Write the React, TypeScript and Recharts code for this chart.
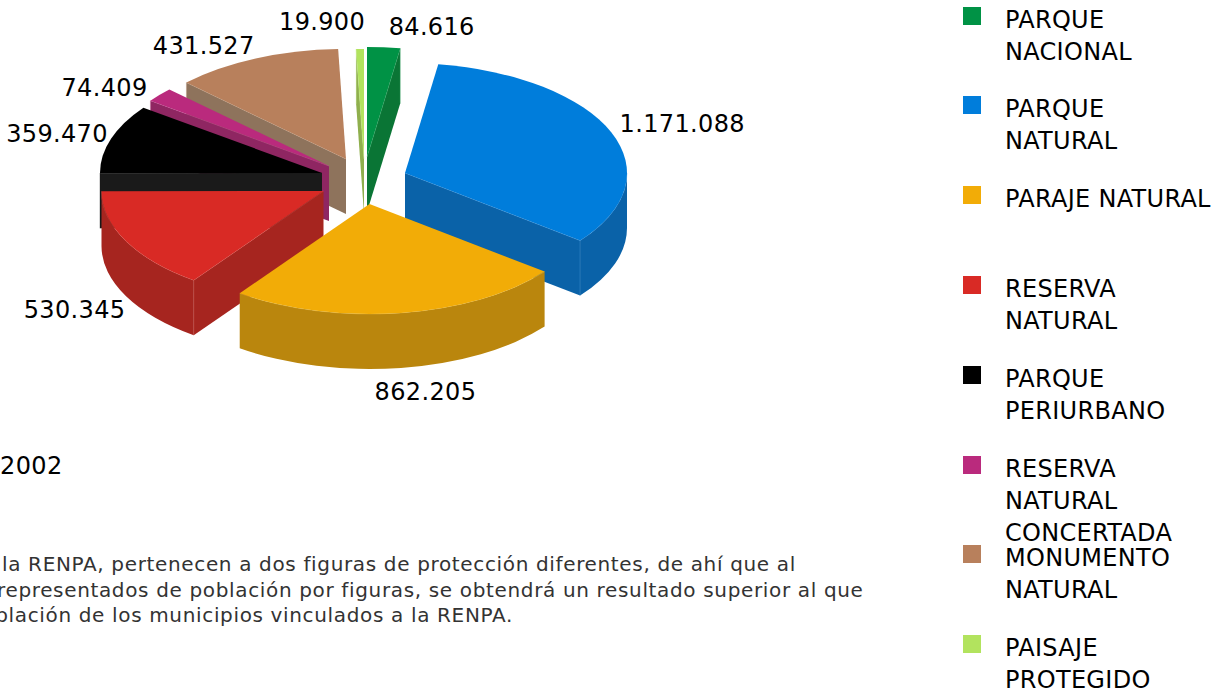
import React from 'react';
import { PieChart, Pie, Legend } from 'recharts';

// ---- data ----
const names = [
  'PARQUE NACIONAL',
  'PARQUE NATURAL',
  'PARAJE NATURAL',
  'RESERVA NATURAL',
  'PARQUE PERIURBANO',
  'RESERVA NATURAL CONCERTADA',
  'MONUMENTO NATURAL',
  'PAISAJE PROTEGIDO',
];
const values = [84616, 1171088, 862205, 530345, 359470, 74409, 431527, 19900];
const legendLines = [
  'PARQUE\nNACIONAL',
  'PARQUE\nNATURAL',
  'PARAJE NATURAL',
  'RESERVA\nNATURAL',
  'PARQUE\nPERIURBANO',
  'RESERVA\nNATURAL\nCONCERTADA',
  'MONUMENTO\nNATURAL',
  'PAISAJE\nPROTEGIDO',
];
const yearLabel = '2002';
const noteLines = [
  'la RENPA, pertenecen a dos figuras de protección diferentes, de ahí que al',
  'representados de población por figuras, se obtendrá un resultado superior al que',
  'población de los municipios vinculados a la RENPA.',
];

// ---- styles ----
const topColors = ['#009245', '#007DDB', '#F2AC07', '#D92A25', '#000000', '#BA2A7D', '#B8805C', '#B2E35E'];
const wallColors = ['#0A7535', '#0A62A8', '#BA860D', '#A6251F', '#1A1A1A', '#8F2662', '#8E735C', '#8FAF4D'];
const edgeColors = ['#5FBF85', '#5FA8E8', '#E8C860', '#E87A70', '#1A1A1A', '#D070A8', '#D8B8A0', '#D0F0A0'];
const explodeX = [0, 38, 2.5, -43.5, -45, -38, -21, -3];
const explodeY = [0, 16, 47, 34, 16, 9, 2, 2];
const labelDX = [48, 71, 24.5, -51.5, -54, -55, -52, -38];
const labelDY = [-20, -8, 79, 69, -5, -7, -13, -27];
const paintOrder = [7, 0, 6, 5, 4, 1, 3, 2];
const legendTops = [7, 96, 186, 276, 366, 456, 545, 635];
const noteX = [2, -3, -31];
const noteY = [564, 590, 615];

const FONT = '"DejaVu Sans", Verdana, sans-serif';
const CX = 367;
const CY = 157;
const RX = 222;
const RY = 110;
const DEPTH = 55;

const tableData = names.map((name, i) => ({ name, value: values[i] }));
const fmt = (v: number) => String(v).replace(/\B(?=(\d{3})+(?!\d))/g, '.');

const sliceShape = (target: number) => (props: any) => {
  const i = names.indexOf(props.name);
  if (i !== target) return <g />;
  const ox = props.cx + explodeX[i];
  const oy = props.cy + explodeY[i];
  const rx = props.outerRadius;
  const ry = (rx * RY) / RX;
  const a = 90 - props.startAngle;
  const b = 90 - props.endAngle;
  const pt = (deg: number, down = 0) => {
    const t = (deg * Math.PI) / 180;
    return [ox + rx * Math.sin(t), oy - ry * Math.cos(t) + down];
  };
  const [ax, ay] = pt(a);
  const [bx, by] = pt(b);
  const large = b - a > 180 ? 1 : 0;
  const top = `M${ox},${oy} L${ax},${ay} A${rx},${ry} 0 ${large} 1 ${bx},${by} Z`;
  const sinA = Math.sin((a * Math.PI) / 180);
  const sinB = Math.sin((b * Math.PI) / 180);
  const walls: React.ReactNode[] = [];
  const radial = (x: number, y: number, key: string) => {
    walls.push(
      <path key={key} d={`M${ox},${oy} L${x},${y} L${x},${y + DEPTH} L${ox},${oy + DEPTH} Z`} fill={wallColors[i]} stroke="none" />,
      <path key={key + 'e'} d={`M${ox},${oy} L${x},${y} L${x},${y + DEPTH}`} fill="none" stroke={edgeColors[i]} strokeWidth={0.6} strokeOpacity={0.6} />
    );
  };
  if (sinA < -1e-6) radial(ax, ay, 'start');
  if (sinB > 1e-6) radial(bx, by, 'end');
  const lo = Math.max(a, 90);
  const hi = Math.min(b, 270);
  if (lo < hi) {
    const [lx, ly] = pt(lo);
    const [hx, hy] = pt(hi);
    walls.push(
      <path key="outer" d={`M${lx},${ly} A${rx},${ry} 0 0 1 ${hx},${hy} L${hx},${hy + DEPTH} A${rx},${ry} 0 0 0 ${lx},${ly + DEPTH} Z`} fill={wallColors[i]} stroke="none" />,
      <path key="outerE" d={`M${lx},${ly} A${rx},${ry} 0 0 1 ${hx},${hy}`} fill="none" stroke={edgeColors[i]} strokeWidth={0.6} strokeOpacity={0.6} />
    );
  }
  const mid = pt((a + b) / 2);
  return (
    <g>
      {walls}
      <path d={top} fill={topColors[i]} stroke="none" />
      <text
        x={mid[0] + labelDX[i]}
        y={mid[1] + labelDY[i]}
        textAnchor="middle"
        dominantBaseline="central"
        fontFamily={FONT}
        fontSize={24}
        letterSpacing={0.35}
        fill="#000"
      >
        {fmt(props.value)}
      </text>
    </g>
  );
};

const LegendContent = () => (
  <div style={{ position: 'relative', width: 1217, height: 697, fontFamily: FONT, fontSize: 24, lineHeight: '32px', letterSpacing: 0.3, color: '#000' }}>
    {legendLines.map((text, i) => (
      <React.Fragment key={names[i]}>
        <div style={{ position: 'absolute', left: 963, top: legendTops[i], width: 18, height: 18, background: topColors[i] }} />
        <div style={{ position: 'absolute', left: 1005, top: legendTops[i] - 3, whiteSpace: 'pre' }}>{text}</div>
      </React.Fragment>
    ))}
  </div>
);

export default function App() {
  return (
    <div style={{ position: 'absolute', left: 0, top: 0, width: 1217, height: 697, overflow: 'hidden', background: '#fff' }}>
      <PieChart width={1217} height={697} margin={{ top: 0, right: 0, bottom: 0, left: 0 }}>
        {paintOrder.map((idx) => (
          <Pie
            key={names[idx]}
            data={tableData}
            dataKey="value"
            nameKey="name"
            cx={CX}
            cy={CY}
            outerRadius={RX}
            innerRadius={0}
            startAngle={90}
            endAngle={-270}
            stroke="none"
            isAnimationActive={false}
            shape={sliceShape(idx)}
            legendType="none"
          />
        ))}
        <Legend content={<LegendContent />} wrapperStyle={{ position: 'absolute', left: 0, top: 0, width: 1217, height: 697, pointerEvents: 'none' }} />
      </PieChart>
      <div style={{ position: 'absolute', left: 0, top: 451, fontFamily: FONT, fontSize: 24, lineHeight: '30px', letterSpacing: 0.4, color: '#000' }}>{yearLabel}</div>
      {noteLines.map((line, i) => (
        <div key={i} style={{ position: 'absolute', left: noteX[i], top: noteY[i] - 12, fontFamily: FONT, fontSize: 20, lineHeight: '25px', letterSpacing: 0.65, color: '#333', whiteSpace: 'pre' }}>
          {line}
        </div>
      ))}
    </div>
  );
}
